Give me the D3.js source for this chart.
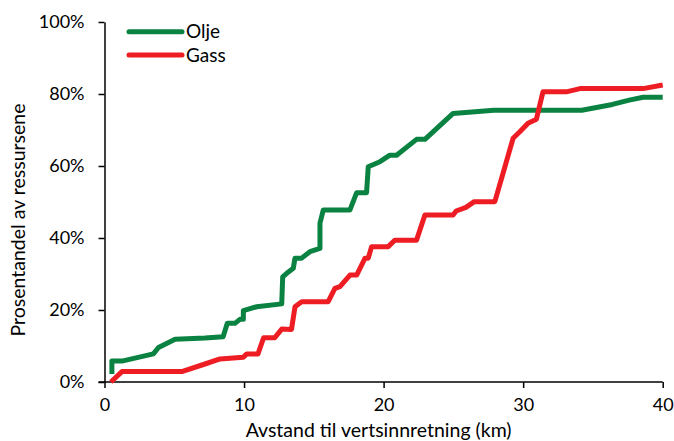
<!DOCTYPE html>
<html>
<head>
<meta charset="utf-8">
<script src="https://cdn.jsdelivr.net/npm/d3@7"></script>
<style>
  html, body { margin: 0; padding: 0; background: #fff; }
  svg { display: block; font-family: Lato, "Open Sans", sans-serif; }
  .tick text { fill: #000; }
</style>
</head>
<body>
<svg id="chart" width="674" height="441"></svg>
<script>
// Cumulative share of resources vs. distance to host facility (km)
const oljeKm  = [0.53, 0.53, 1.25, 3.5, 3.87, 5.06, 7.2, 8.5, 8.8, 9.35, 9.7, 9.95, 9.95, 10.9, 12.7, 12.77, 13.06, 13.53, 13.65, 14.13, 14.72, 15.44, 15.44, 15.68, 17.59, 18.07, 18.78, 18.9, 19.74, 20.45, 20.93, 22.36, 22.96, 24.98, 27.9, 34.2, 36.4, 37.6, 38.6, 40];
const oljePct = [2.2, 5.8, 5.8, 7.8, 9.6, 11.9, 12.2, 12.6, 16.3, 16.3, 17.4, 17.4, 19.8, 20.9, 21.7, 29.2, 30.2, 31.6, 34.4, 34.4, 36.2, 37.1, 44.1, 47.8, 47.8, 52.6, 52.6, 59.8, 61.2, 63.0, 63.0, 67.4, 67.4, 74.6, 75.5, 75.5, 77.1, 78.3, 79.1, 79.1];

const gassKm  = [0.46, 1.25, 5.54, 7.2, 8.28, 9.95, 10.2, 11.0, 11.4, 12.2, 12.7, 13.4, 13.65, 14.13, 16.03, 16.51, 16.87, 17.59, 18.07, 18.67, 18.9, 19.14, 20.33, 20.8, 22.36, 22.96, 24.98, 25.2, 25.9, 26.5, 27.97, 28.56, 29.28, 29.76, 30.35, 30.95, 31.42, 33.1, 34.07, 38.6, 40];
const gassPct = [0.0, 2.9, 2.9, 5.0, 6.4, 6.9, 7.8, 7.8, 12.3, 12.3, 14.7, 14.6, 20.9, 22.3, 22.3, 26.0, 26.5, 29.7, 29.7, 34.4, 34.4, 37.6, 37.6, 39.4, 39.4, 46.4, 46.4, 47.5, 48.5, 50.1, 50.1, 58.0, 67.7, 69.5, 71.9, 73.0, 80.6, 80.6, 81.5, 81.5, 82.5];

const xTicks = [0, 10, 20, 30, 40];
const yTicks = [0, 20, 40, 60, 80, 100];
const seriesNames = ["Olje", "Gass"];
const seriesColors = ["#0a8241", "#ee1d24"];

const margin = { left: 104.5, right: 11.3, top: 22, bottom: 59 };
const W = 674, H = 441;
const svg = d3.select("#chart");

const x = d3.scaleLinear().domain([0, 40]).range([margin.left, W - margin.right]);
const y = d3.scaleLinear().domain([0, 100]).range([H - margin.bottom, margin.top]);

// axes
const xAxis = svg.append("g")
  .attr("transform", `translate(0,${y(0)})`)
  .call(d3.axisBottom(x).tickValues(xTicks).tickSize(6).tickPadding(10).tickSizeOuter(0));
xAxis.select(".domain").attr("stroke", "#000").attr("stroke-width", 1.5)
  .attr("d", `M${x(0) - 6},0H${x(40)}`);
xAxis.selectAll(".tick line").attr("stroke-width", 1.5);
xAxis.selectAll(".tick text").attr("font-size", 18).attr("font-family", "Lato, sans-serif");

const yAxis = svg.append("g")
  .attr("transform", `translate(${x(0)},0)`)
  .call(d3.axisLeft(y).tickValues(yTicks).tickFormat(d => d + "%").tickSize(6).tickPadding(14).tickSizeOuter(0));
yAxis.select(".domain").attr("stroke", "#000").attr("stroke-width", 1.5);
yAxis.selectAll(".tick line").attr("stroke-width", 1.5);
yAxis.selectAll(".tick text").attr("font-size", 18).attr("font-family", "Lato, sans-serif");

// axis titles
svg.append("text")
  .attr("x", (x(0) + x(40)) / 2 - 5)
  .attr("y", 437)
  .attr("text-anchor", "middle")
  .attr("font-size", 19.5)
  .text("Avstand til vertsinnretning (km)");

svg.append("text")
  .attr("transform", `translate(25,220) rotate(-90)`)
  .attr("text-anchor", "middle")
  .attr("font-size", 19.5)
  .text("Prosentandel av ressursene");

// series lines, oil first, gas on top
const line = d3.line().x(d => x(d[0])).y(d => y(d[1]));
const series = [
  d3.zip(oljeKm, oljePct),
  d3.zip(gassKm, gassPct)
];
series.forEach((pts, i) => {
  svg.append("path")
    .datum(pts)
    .attr("fill", "none")
    .attr("stroke", seriesColors[i])
    .attr("stroke-width", 5)
    .attr("stroke-linejoin", "round")
    .attr("d", line);
});

// legend
const legend = svg.append("g");
seriesNames.forEach((name, i) => {
  const ly = 31.7 + i * 23.3;
  legend.append("line")
    .attr("x1", 129).attr("x2", 182)
    .attr("y1", ly).attr("y2", ly)
    .attr("stroke", seriesColors[i])
    .attr("stroke-width", 5)
    .attr("stroke-linecap", "round");
  legend.append("text")
    .attr("x", 186).attr("y", ly + 6.5)
    .attr("font-size", 19)
    .text(name);
});
</script>
</body>
</html>
